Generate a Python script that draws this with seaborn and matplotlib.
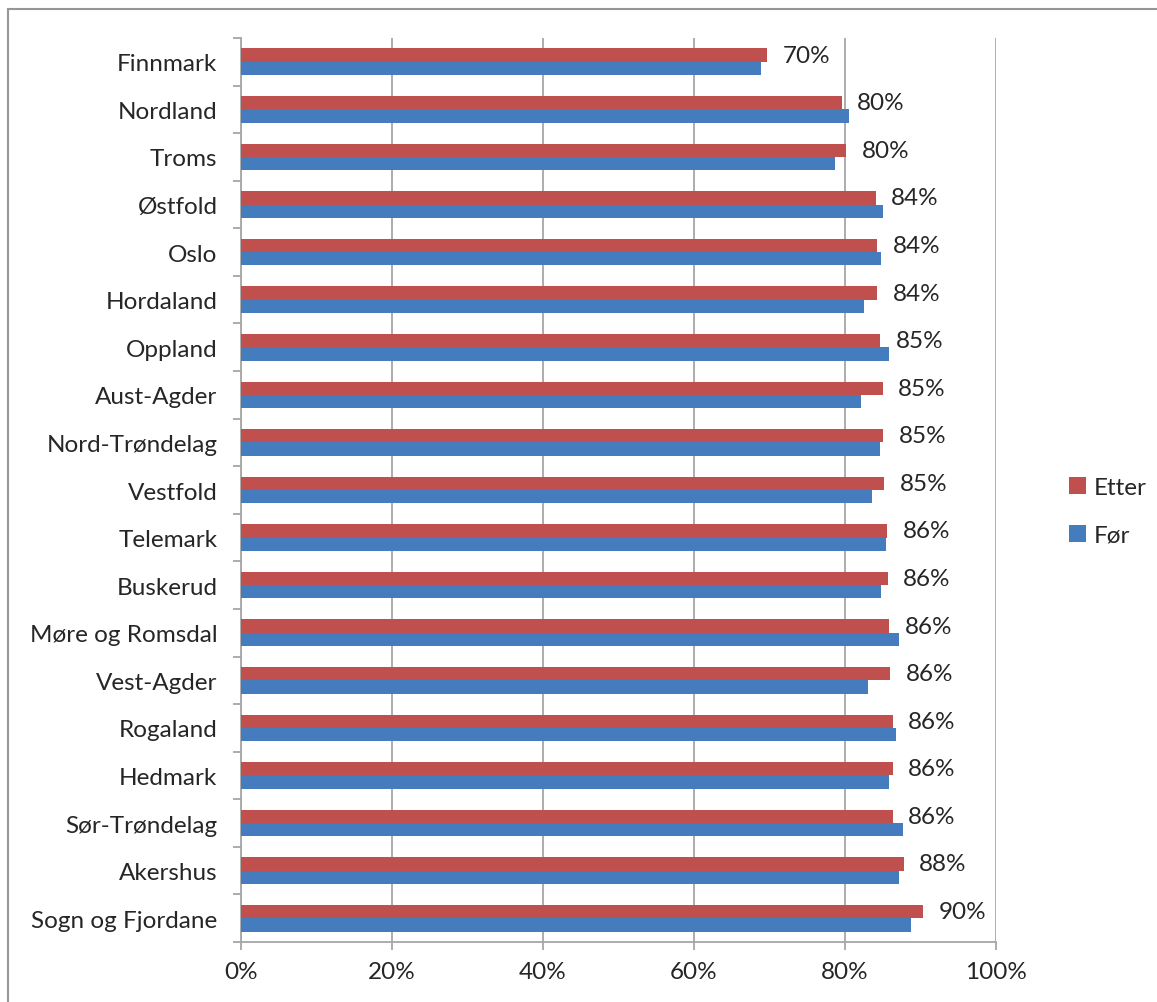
import numpy as np
import pandas as pd
import matplotlib
matplotlib.use("Agg")
import matplotlib.pyplot as plt
import seaborn as sns
from matplotlib.patches import Rectangle
from matplotlib.ticker import FixedLocator, PercentFormatter

# data (in percent)
fylker = ["Finnmark", "Nordland", "Troms", "Østfold", "Oslo", "Hordaland",
          "Oppland", "Aust-Agder", "Nord-Trøndelag", "Vestfold", "Telemark",
          "Buskerud", "Møre og Romsdal", "Vest-Agder", "Rogaland", "Hedmark",
          "Sør-Trøndelag", "Akershus", "Sogn og Fjordane"]
etter = [69.7, 79.6, 80.2, 84.1, 84.3, 84.3, 84.7, 85.0, 85.1, 85.2,
         85.6, 85.7, 85.9, 86.0, 86.3, 86.3, 86.3, 87.8, 90.4]
foer = [68.9, 80.6, 78.7, 85.1, 84.8, 82.5, 85.9, 82.1, 84.7, 83.6,
        85.4, 84.8, 87.1, 83.0, 86.7, 85.9, 87.7, 87.1, 88.8]
series = ["Etter", "Før"]
colors = ["#C0504D", "#457CBE"]
x_ticks = [0, 20, 40, 60, 80, 100]

df = pd.DataFrame({"Fylke": fylker, "Etter": etter, "Før": foer})
long = df.melt(id_vars="Fylke", var_name="Tidspunkt", value_name="Andel")

sns.set_style("white")
plt.rcParams["font.family"] = ["Lato", "DejaVu Sans"]

fig = plt.figure(figsize=(11.57, 10.03), dpi=100)
ax = fig.add_axes([0.2083, 0.0598, 0.6525, 0.9013])

sns.barplot(data=long, y="Fylke", x="Andel", hue="Tidspunkt",
            hue_order=series, order=fylker, palette=colors, saturation=1,
            orient="h", width=0.56, gap=0, ax=ax, zorder=3,
            edgecolor="none", linewidth=0)

ax.set_xlim(0, 100)
ax.set_ylim(len(fylker) - 0.5, -0.5)
ax.set_xticks(x_ticks)
ax.xaxis.set_major_formatter(PercentFormatter(decimals=0))
ax.grid(axis="x", color="#a6a6a6", linewidth=1.3, zorder=0)
ax.grid(axis="y", visible=False)
ax.set_xlabel("")
ax.set_ylabel("")

for side in ["top", "right"]:
    ax.spines[side].set_visible(False)
for side in ["left", "bottom"]:
    ax.spines[side].set_color("#a6a6a6")
    ax.spines[side].set_linewidth(1.3)

fs = 17.5
ax.tick_params(axis="y", which="major", left=False, length=0, pad=17,
               labelsize=fs)
ax.yaxis.set_minor_locator(FixedLocator(np.arange(-0.5, len(fylker), 1.0)))
ax.tick_params(axis="y", which="minor", left=True, length=6, width=1.3,
               color="#a6a6a6")
ax.tick_params(axis="x", bottom=True, length=6, width=1.3, color="#a6a6a6",
               direction="out", pad=8, labelsize=fs)

# data labels on the "Etter" bars
ax.bar_label(ax.containers[0], labels=[f"{v:.0f}%" for v in etter],
             padding=11, fontsize=fs)

leg = ax.legend(loc="center left", bbox_to_anchor=(0.905, 0.489),
                bbox_transform=fig.transFigure, frameon=False,
                fontsize=fs, handlelength=0.7, handleheight=0.7,
                handletextpad=0.3, labelspacing=1.1)

# chart border
fig.patches.append(Rectangle((8 / 1157, -0.05), 1.2, 1.05 - 10 / 1003,
                             transform=fig.transFigure, fill=False,
                             edgecolor="#969696", linewidth=1.5))

fig.savefig("out.png", dpi=100)
